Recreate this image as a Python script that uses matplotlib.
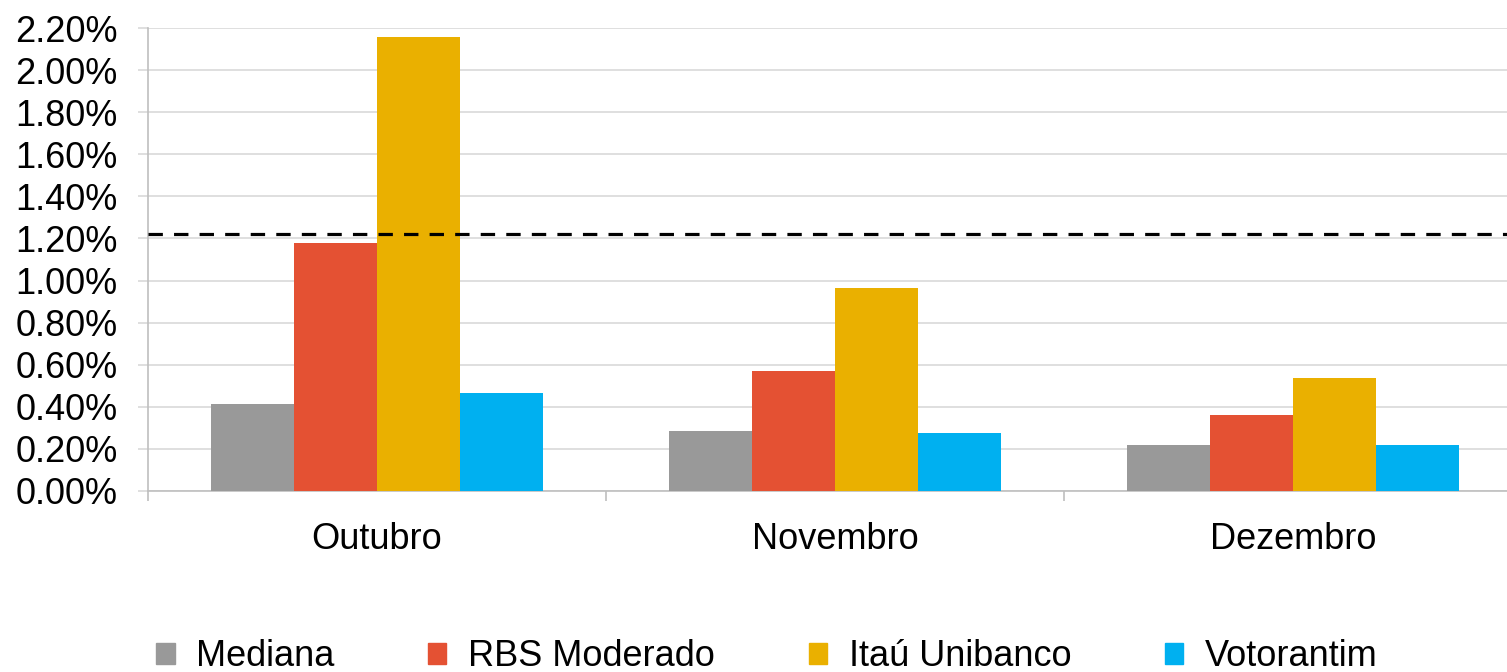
import matplotlib
matplotlib.use("Agg")
import matplotlib.pyplot as plt
import matplotlib.patches as mpatches
import matplotlib.ticker as mticker
import numpy as np

plt.rcParams['font.family'] = ['Liberation Sans', 'DejaVu Sans']

# ── 数据 ──────────────────────────────────────────────────────────────────────
meses = ["Outubro", "Novembro", "Dezembro"]
series = ["Mediana", "RBS Moderado", "Itaú Unibanco", "Votorantim"]
mediana = [0.413, 0.285, 0.219]
rbs = [1.180, 0.570, 0.361]
itau = [2.155, 0.963, 0.537]
votorantim = [0.466, 0.276, 0.219]
meta = 1.222          # linha tracejada
yticks = np.arange(0, 2.21, 0.2)

cores = ["#999999", "#E45133", "#EAB000", "#00B0F0"]
valores = [mediana, rbs, itau, votorantim]

fig = plt.figure(figsize=(15.07, 6.72), dpi=100)
ax = fig.add_axes([148 / 1507, 1 - 491 / 672, 1 - 148 / 1507, (491 - 28) / 672])

x = np.arange(len(meses))
w = 0.1815
for i, (vals, cor) in enumerate(zip(valores, cores)):
    ax.bar(x + (i - 1.5) * w, vals, width=w, color=cor, zorder=3)

ax.axhline(meta, color="black", lw=2.3, ls=(0, (4.5, 3.5)), zorder=4)

ax.set_yticks(yticks)
ax.yaxis.set_major_formatter(mticker.FuncFormatter(lambda v, p: f"{v:.2f}%"))
ax.grid(axis="y", color="#d9d9d9", lw=1.2, zorder=0)

ax.set_xticks(x)
ax.set_xticklabels(meses)
ax.set_xticks([-0.5, 0.5, 1.5, 2.5], minor=True)
ax.set_ylim(0, 2.2)
ax.set_xlim(-0.5, (1507 - 148) / 458 - 0.5)
ax.tick_params(axis="x", which="major", length=0, pad=22, labelsize=26)
ax.tick_params(axis="x", which="minor", length=7, color="#bfbfbf", width=1.2)
ax.tick_params(axis="y", length=7, color="#d9d9d9", width=1.2, pad=15, labelsize=26)

for s in ["top", "right"]:
    ax.spines[s].set_visible(False)
ax.spines["left"].set_color("#bfbfbf")
ax.spines["bottom"].set_color("#bfbfbf")
ax.spines["left"].set_linewidth(1.2)
ax.spines["bottom"].set_linewidth(1.2)

handles = [mpatches.Patch(color=c, label=s) for s, c in zip(series, cores)]
fig.legend(handles=handles, loc="center left", bbox_to_anchor=(142 / 1507, 1 - 657 / 672),
           ncol=4, frameon=False, fontsize=26, handlelength=0.5, handleheight=0.5,
           handletextpad=0.6, columnspacing=2.6, borderaxespad=0)

fig.savefig("out.png", dpi=100)
